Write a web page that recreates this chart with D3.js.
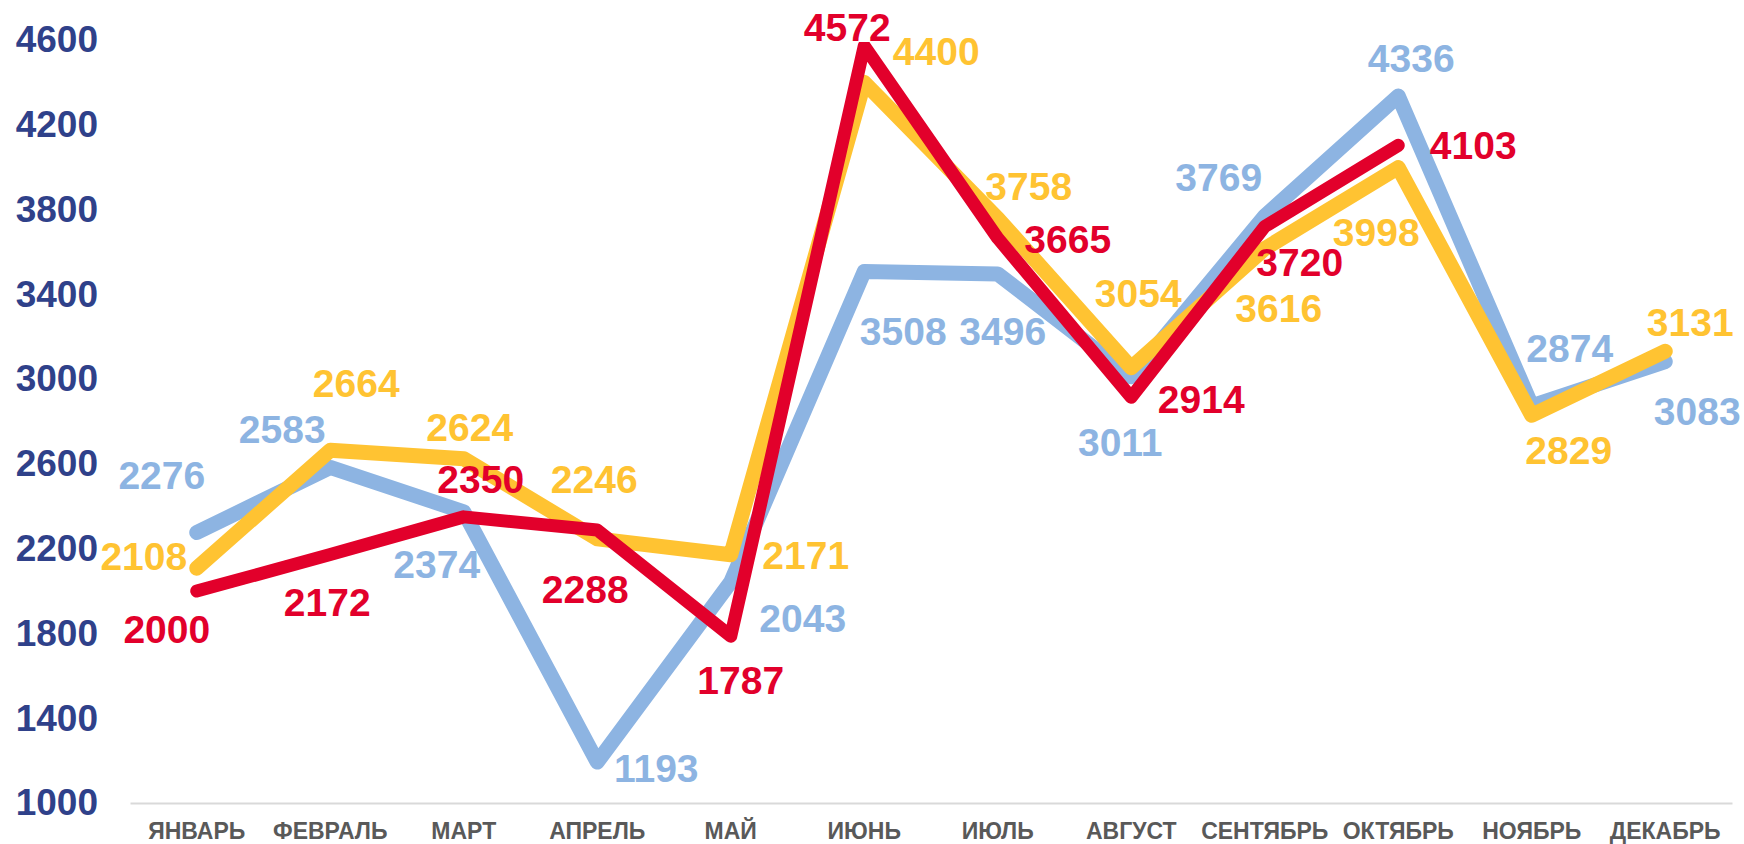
<!DOCTYPE html>
<html>
<head>
<meta charset="utf-8">
<script src="https://cdn.jsdelivr.net/npm/d3@7/dist/d3.min.js"></script>
<style>
  body { margin: 0; background: #fff; }
  svg { display: block; }
  .tick line { display: none; }
</style>
</head>
<body>
<div id="chart"></div>
<script>
// chart data
var months = ["ЯНВАРЬ", "ФЕВРАЛЬ", "МАРТ", "АПРЕЛЬ", "МАЙ", "ИЮНЬ", "ИЮЛЬ", "АВГУСТ", "СЕНТЯБРЬ", "ОКТЯБРЬ", "НОЯБРЬ", "ДЕКАБРЬ"];
var blueValues = [2276, 2583, 2374, 1193, 2043, 3508, 3496, 3011, 3769, 4336, 2874, 3083];
var yellowValues = [2108, 2664, 2624, 2246, 2171, 4400, 3758, 3054, 3616, 3998, 2829, 3131];
var redValues = [2000, 2172, 2350, 2288, 1787, 4572, 3665, 2914, 3720, 4103];
var yTicks = [1000, 1400, 1800, 2200, 2600, 3000, 3400, 3800, 4200, 4600];

// label offsets from the point (px), placed by hand like in the original
var blueLabelPos = [[-35,-57],[-48,-38],[-27,53],[59,6],[72,37],[39,60],[5,58],[-11,66],[-46,-39],[13,-37],[38,-57],[32,50]];
var yellowLabelPos = [[-53,-12],[26,-67],[6,-31],[-3,-59],[75,1],[72,-31],[31,-32],[7,-74],[14,60],[-22,65],[37,35],[25,-29]];
var redLabelPos = [[-30,38],[-3,48],[17,-37],[-12,59],[10,44],[-17,-18],[70,1],[70,2],[35,36],[75,0]];

var svgWidth = 1744;
var svgHeight = 844;

var margin = {top: 40, right: 12, bottom: 41, left: 130};
var width = svgWidth - margin.left - margin.right;
var height = svgHeight - margin.top - margin.bottom;

var svg = d3.select("#chart")
  .append("svg")
  .attr("width", svgWidth)
  .attr("height", svgHeight);

var chartGroup = svg.append("g")
  .attr("transform", `translate(${margin.left}, ${margin.top})`);

// plot area clip (the top of the June peak is cut flat in the original)
chartGroup.append("clipPath")
  .attr("id", "plot-clip")
  .append("rect")
  .attr("x", -20)
  .attr("y", 2)
  .attr("width", width + 40)
  .attr("height", height + 40);

var xScale = d3.scaleBand()
  .domain(months)
  .range([0, width]);

var yScale = d3.scaleLinear()
  .domain([1000, 4600])
  .range([height, 0]);

// y axis labels
var leftAxis = d3.axisLeft(yScale).tickValues(yTicks).tickFormat(d3.format("d")).tickSize(0).tickPadding(32);
var yAxis = chartGroup.append("g").call(leftAxis);
yAxis.select(".domain").remove();
yAxis.selectAll("text")
  .attr("fill", "#2F418A")
  .style("font-family", "'Liberation Sans', Arial, sans-serif")
  .style("font-weight", "bold")
  .style("font-size", "37px");

// x axis
var bottomAxis = d3.axisBottom(xScale).tickSize(0).tickPadding(20);
var xAxis = chartGroup.append("g")
  .attr("transform", `translate(0, ${height})`)
  .call(bottomAxis);
xAxis.select(".domain").attr("stroke", "#D9D9D9").attr("stroke-width", 2);
xAxis.selectAll("text")
  .attr("fill", "#595959")
  .style("font-family", "'Liberation Sans', Arial, sans-serif")
  .style("font-weight", "bold")
  .style("font-size", "23px");

var series = [
  {values: blueValues, color: "#8DB4E2", width: 15, pos: blueLabelPos},
  {values: yellowValues, color: "#FFC332", width: 15, pos: yellowLabelPos},
  {values: redValues, color: "#E2002B", width: 13, pos: redLabelPos}
];

var line = d3.line()
  .x((d, i) => xScale(months[i]) + xScale.bandwidth() / 2)
  .y(d => yScale(d));

// lines
var linesGroup = chartGroup.append("g").attr("clip-path", "url(#plot-clip)");
series.forEach(s => {
  linesGroup.append("path")
    .datum(s.values)
    .attr("d", line)
    .attr("fill", "none")
    .attr("stroke", s.color)
    .attr("stroke-width", s.width)
    .attr("stroke-linejoin", "round")
    .attr("stroke-linecap", "round");
});

// data labels on top
series.forEach(s => {
  chartGroup.selectAll(null)
    .data(s.values)
    .enter()
    .append("text")
    .attr("x", (d, i) => xScale(months[i]) + xScale.bandwidth() / 2 + s.pos[i][0])
    .attr("y", (d, i) => yScale(d) + s.pos[i][1])
    .attr("text-anchor", "middle")
    .attr("dominant-baseline", "central")
    .attr("fill", s.color)
    .style("font-family", "'Liberation Sans', Arial, sans-serif")
    .style("font-weight", "bold")
    .style("font-size", "39px")
    .text(d => d);
});
</script>
</body>
</html>
